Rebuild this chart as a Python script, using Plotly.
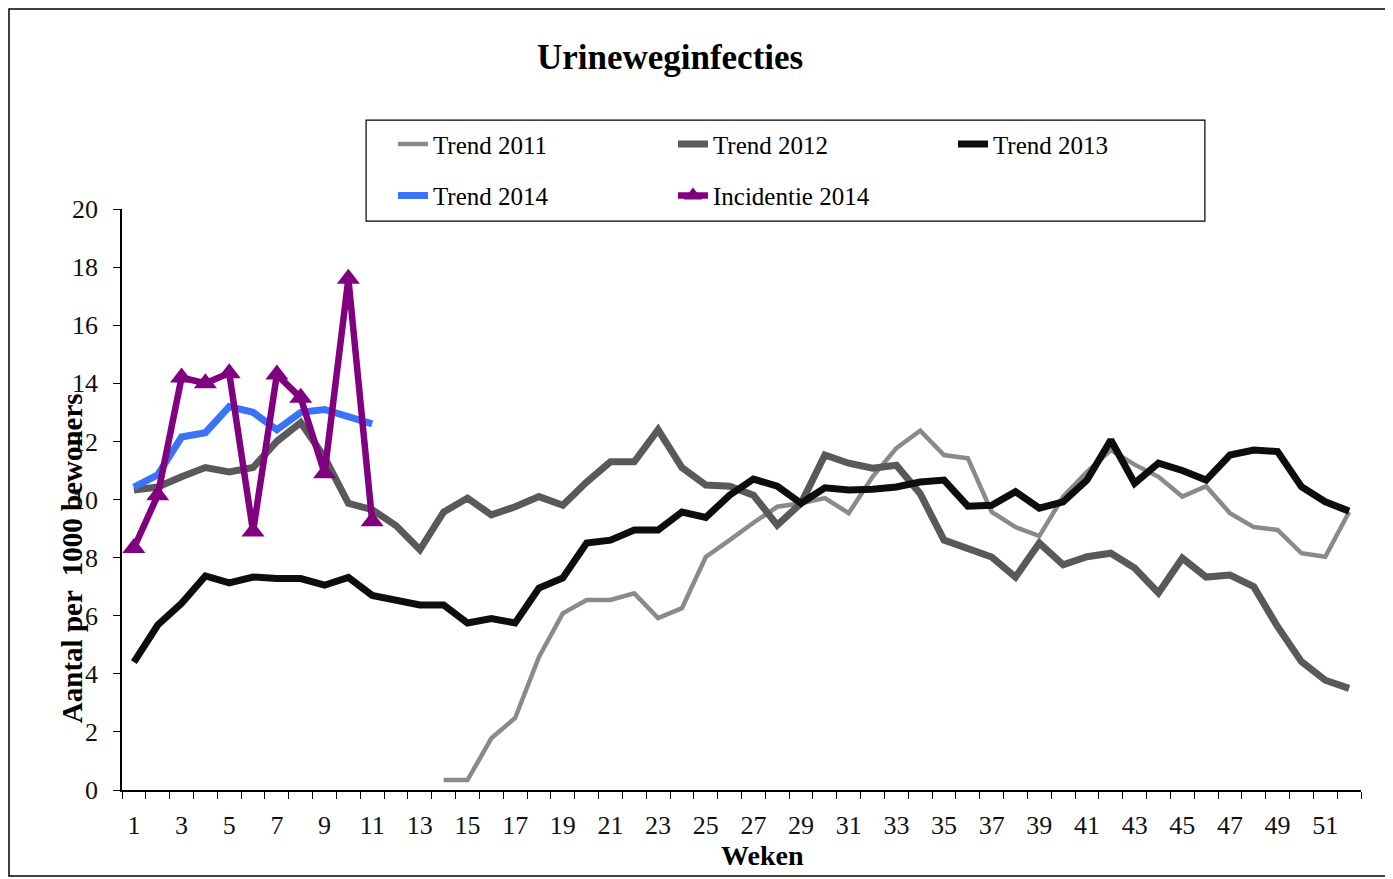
import plotly.graph_objects as go

weeks = list(range(1, 53))
week_labels = [str(w) for w in range(1, 53, 2)]

trend_2011 = [None] * 13 + [
    0.34, 0.34, 1.78, 2.48, 4.58, 6.08, 6.54, 6.54, 6.77, 5.92, 6.26, 8.02, 8.6,
    9.2, 9.75, 9.87, 10.05, 9.53, 10.78, 11.77, 12.37, 11.53, 11.42, 9.57, 9.05,
    8.74, 10.1, 10.95, 11.7, 11.2, 10.78, 10.1, 10.46, 9.53, 9.05, 8.95, 8.15,
    8.03, 9.57]
trend_2012 = [
    10.33, 10.43, 10.78, 11.1, 10.95, 11.1, 12.0, 12.65, 11.45, 9.87,
    9.65, 9.1, 8.27, 9.57, 10.05, 9.47, 9.75, 10.1, 9.8, 10.6,
    11.3, 11.3, 12.4, 11.1, 10.5, 10.46, 10.15, 9.12, 9.87, 11.53,
    11.25, 11.08, 11.18, 10.2, 8.6, 8.33, 8.02, 7.33, 8.5, 7.75,
    8.03, 8.15, 7.64, 6.78, 7.98, 7.33, 7.4, 7.0, 5.62, 4.42, 3.78, 3.5]
trend_2013 = [
    4.4, 5.68, 6.43, 7.37, 7.13, 7.33, 7.28, 7.28, 7.05, 7.32,
    6.7, 6.52, 6.37, 6.37, 5.75, 5.9, 5.75, 6.95, 7.3, 8.5,
    8.6, 8.95, 8.95, 9.57, 9.38, 10.15, 10.7, 10.46, 9.87, 10.4,
    10.33, 10.35, 10.43, 10.6, 10.67, 9.77, 9.8, 10.27, 9.7, 9.92,
    10.67, 12.05, 10.56, 11.25, 11.0, 10.67, 11.53, 11.7, 11.65, 10.44, 9.92, 9.6]
trend_2014 = [10.43, 10.85, 12.15, 12.3, 13.2, 13.0, 12.4, 13.0, 13.1, 12.85, 12.6]
incidentie_2014 = [8.33, 10.15, 14.2, 14.0, 14.35, 8.9, 14.3, 13.5, 10.9, 17.6, 9.25]

serif = "Liberation Serif"

fig = go.Figure()
fig.add_trace(go.Scatter(x=weeks, y=trend_2011, mode="lines", name="Trend 2011",
                         line=dict(color="#8a8a8a", width=4.5), legend="legend"))
fig.add_trace(go.Scatter(x=weeks, y=trend_2012, mode="lines", name="Trend 2012",
                         line=dict(color="#595959", width=7), legend="legend"))
fig.add_trace(go.Scatter(x=weeks, y=trend_2013, mode="lines", name="Trend 2013",
                         line=dict(color="#0d0d0d", width=7), legend="legend"))
fig.add_trace(go.Scatter(x=weeks[:11], y=trend_2014, mode="lines", name="Trend 2014",
                         line=dict(color="#3a72f8", width=7), legend="legend2"))
fig.add_trace(go.Scatter(x=weeks[:11], y=incidentie_2014, mode="lines+markers",
                         name="Incidentie 2014", legend="legend2",
                         line=dict(color="#800080", width=6.5),
                         marker=dict(symbol="triangle-up", size=20, color="#800080")))

leg_common = dict(orientation="h", xanchor="left", yanchor="top",
                  entrywidth=235, entrywidthmode="pixels",
                  borderwidth=0, bgcolor="rgba(0,0,0,0)",
                  font=dict(size=25, family=serif, color="black"))

fig.update_layout(
    width=1385, height=871,
    margin=dict(l=114, r=32, t=201, b=89),
    paper_bgcolor="white", plot_bgcolor="white",
    font=dict(family=serif, color="black"),
    title=dict(text="<b>Urineweginfecties</b>", font=dict(size=35, family=serif),
               x=0.478, xref="container", xanchor="center",
               y=0.9437, yref="container", yanchor="middle"),
    showlegend=True,
    legend=dict(x=0.2187, y=1.151, **leg_common),
    legend2=dict(x=0.2187, y=1.0624, **leg_common),
    xaxis=dict(range=[0.5, 52.5], tickmode="array",
               tickvals=[w - 0.5 for w in range(1, 54)],
               ticktext=[""] * 53, ticks="outside", ticklen=7, tickcolor="black",
               showline=True, linecolor="black", linewidth=1.5,
               showgrid=False, zeroline=False),
    xaxis2=dict(overlaying="x", anchor="y", side="bottom", range=[0.5, 52.5],
                tickmode="array", tickvals=list(range(1, 53, 2)), ticktext=week_labels,
                ticks="", showline=False, showgrid=False, zeroline=False,
                ticklabelstandoff=17,
                tickfont=dict(size=26, family=serif, color="#111")),
    yaxis=dict(range=[0, 20], dtick=2, ticks="outside", ticklen=7, tickcolor="black",
               showline=True, linecolor="black", linewidth=1.5,
               showgrid=False, zeroline=False, ticklabelstandoff=10,
               tickfont=dict(size=26, family=serif, color="#111")),
)

# dummy trace so the label axis gets drawn
fig.add_trace(go.Scatter(x=[1], y=[None], xaxis="x2", showlegend=False,
                         hoverinfo="skip"))

fig.add_annotation(text="<b>Aantal per  1000 bewoners</b>", textangle=-90,
                   xref="paper", yref="paper", x=-0.0404, y=0.399,
                   xanchor="center", yanchor="middle", showarrow=False,
                   font=dict(size=29, family=serif, color="black"))
fig.add_annotation(text="<b>Weken</b>", xref="paper", yref="paper",
                   x=0.517, y=-0.112, xanchor="center", yanchor="middle",
                   showarrow=False, font=dict(size=28, family=serif, color="black"))

# legend box
fig.add_shape(type="rect", xref="paper", yref="paper",
              x0=0.197, x1=0.874, y0=0.979, y1=1.153,
              line=dict(color="black", width=1.2), fillcolor="white", layer="below")
# outer frame
fig.add_shape(type="rect", xref="paper", yref="paper",
              x0=-0.0912, x1=1.0218, y0=-0.148, y1=1.3442,
              line=dict(color="black", width=1.5), fillcolor="rgba(0,0,0,0)",
              layer="below")

fig.write_html("out.html")
